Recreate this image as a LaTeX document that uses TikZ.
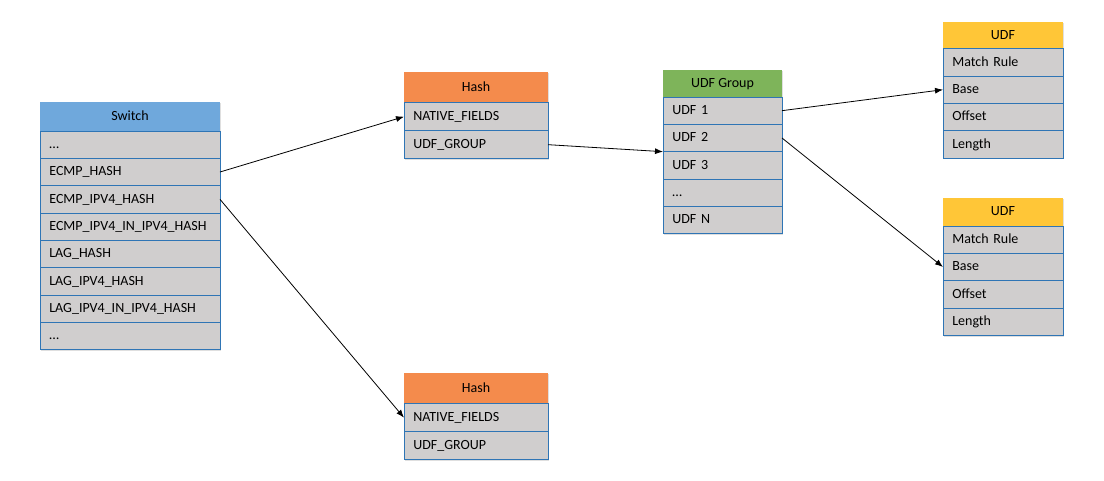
\documentclass[tikz,border=0pt]{standalone}
\usepackage{fontspec}
\setmainfont{Carlito}
\usetikzlibrary{positioning,shadows,arrows.meta}
\definecolor{switchblue}{HTML}{6FA8DC}
\definecolor{hashorange}{HTML}{F48B4C}
\definecolor{groupgreen}{HTML}{7EB45A}
\definecolor{udfyellow}{HTML}{FFC637}
\definecolor{fieldgray}{HTML}{D0CECE}
\definecolor{fieldline}{HTML}{2F75B5}
\begin{document}
\begin{tikzpicture}[x=0.75pt,y=-0.75pt,thin,font=\fontsize{10.5}{12}\selectfont,
title/.style={anchor=north west,inner sep=0pt,outer sep=0pt,text height=7.5pt,text depth=2pt,
  drop shadow={shadow xshift=1pt,shadow yshift=-1pt,opacity=0.25}},
field/.style={draw=fieldline,fill=fieldgray,text width=#1,minimum height=20.5pt,inner xsep=7pt,inner ysep=0pt,
  outer sep=0pt,align=left,text height=7.5pt,text depth=2pt,
  drop shadow={shadow xshift=1pt,shadow yshift=-1pt,opacity=0.25}},
link/.style={-{Latex[length=6pt,width=4.5pt]},black,line width=0.6pt}]
\useasboundingbox (0,0) rectangle (1104,480);

% switch
\draw (40,102) node[title,fill=switchblue,minimum width=135pt,minimum height=21.75pt] (sw) {Switch};
\node[field=121pt,below=0pt of sw] (sw1) {…};
\node[field=121pt,below=0pt of sw1] (sw2) {ECMP\_HASH};
\node[field=121pt,below=0pt of sw2] (sw3) {ECMP\_IPV4\_HASH};
\node[field=121pt,below=0pt of sw3] (sw4) {ECMP\_IPV4\_IN\_IPV4\_HASH};
\node[field=121pt,below=0pt of sw4] (sw5) {LAG\_HASH};
\node[field=121pt,below=0pt of sw5] (sw6) {LAG\_IPV4\_HASH};
\node[field=121pt,below=0pt of sw6] (sw7) {LAG\_IPV4\_IN\_IPV4\_HASH};
\node[field=121pt,below=0pt of sw7] (sw8) {…};

% hash tables
\draw (404,72) node[title,fill=hashorange,minimum width=108pt,minimum height=23pt] (ha) {Hash};
\node[field=94pt,minimum height=21pt,below=0pt of ha] (ha1) {NATIVE\_FIELDS};
\node[field=94pt,minimum height=21pt,below=0pt of ha1] (ha2) {UDF\_GROUP};

\draw (404,373) node[title,fill=hashorange,minimum width=108pt,minimum height=23pt] (hb) {Hash};
\node[field=94pt,minimum height=21pt,below=0pt of hb] (hb1) {NATIVE\_FIELDS};
\node[field=94pt,minimum height=21pt,below=0pt of hb1] (hb2) {UDF\_GROUP};

% udf group
\draw (663,70) node[title,fill=groupgreen,minimum width=89.25pt,minimum height=20.25pt] (ug) {UDF Group};
\node[field=75.25pt,below=0pt of ug] (ug1) {UDF 1};
\node[field=75.25pt,below=0pt of ug1] (ug2) {UDF 2};
\node[field=75.25pt,below=0pt of ug2] (ug3) {UDF 3};
\node[field=75.25pt,below=0pt of ug3] (ug4) {…};
\node[field=75.25pt,below=0pt of ug4] (ug5) {UDF N};

% udfs
\draw (943,22) node[title,fill=udfyellow,minimum width=90pt,minimum height=20pt] (ua) {UDF};
\node[field=76pt,below=0pt of ua] (ua1) {Match Rule};
\node[field=76pt,below=0pt of ua1] (ua2) {Base};
\node[field=76pt,below=0pt of ua2] (ua3) {Offset};
\node[field=76pt,below=0pt of ua3] (ua4) {Length};

\draw (943,198) node[title,fill=udfyellow,minimum width=90pt,minimum height=21pt] (ub) {UDF};
\node[field=76pt,below=0pt of ub] (ub1) {Match Rule};
\node[field=76pt,below=0pt of ub1] (ub2) {Base};
\node[field=76pt,below=0pt of ub2] (ub3) {Offset};
\node[field=76pt,below=0pt of ub3] (ub4) {Length};

% links
\draw[link] (sw2.east) -- (ha1.west);
\draw[link] (sw3.east) -- (hb1.west);
\draw[link] (ha2.east) -- (ug2.south west);
\draw[link] (ug1.east) -- (ua2.west);
\draw[link] (ug2.east) -- (ub2.west);

\end{tikzpicture}
\end{document}
